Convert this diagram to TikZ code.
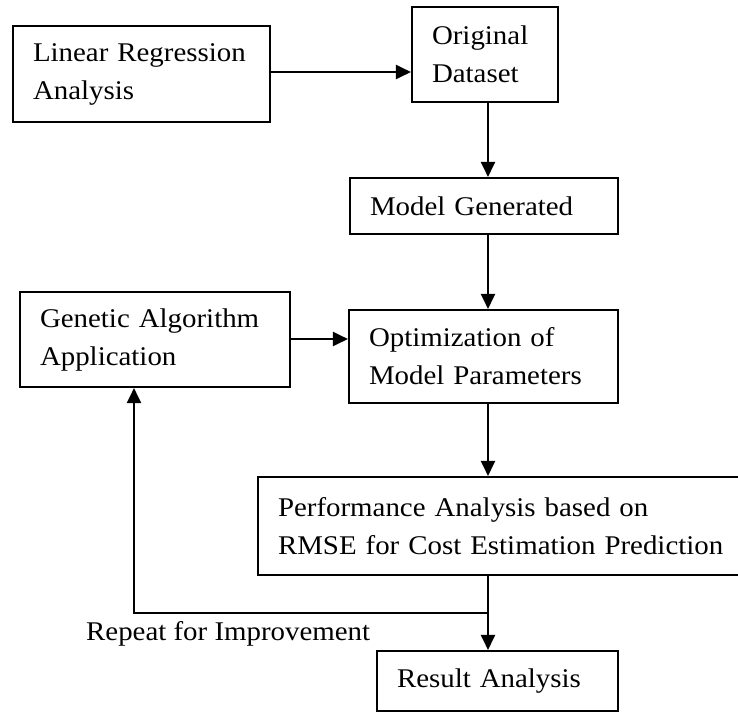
\documentclass[tikz,border=0pt]{standalone}
\usepackage{fontspec}
\setmainfont[FakeStretch=1.07]{Liberation Serif}
\usetikzlibrary{arrows.meta}
\tikzset{
  box/.style={draw, line width=2.1pt, align=left, inner xsep=20pt, inner ysep=3pt,
              font=\fontsize{27pt}{38pt}\selectfont},
  txt/.style={inner sep=0pt, font=\fontsize{27pt}{38pt}\selectfont},
  arr/.style={line width=2.1pt, -{Triangle[length=15pt,width=14pt]}}
}
\begin{document}
\begin{tikzpicture}[x=1pt,y=-1pt]
\useasboundingbox (0,0) rectangle (738,713);
\node[box, minimum width=257pt, minimum height=96pt, text width=217pt] (lin) at (141.5,74) {Linear Regression\\Analysis};
\node[box, minimum width=146pt, minimum height=95pt, text width=106pt] (orig) at (485,54.5) {Original\\Dataset};
\node[box, minimum width=268pt, minimum height=56pt, text width=228pt] (model) at (484,206) {Model Generated};
\node[box, minimum width=270pt, minimum height=95pt, text width=230pt] (gen) at (155,339.5) {Genetic Algorithm\\Application};
\node[box, minimum width=269pt, minimum height=93pt, text width=229pt] (opt) at (483.5,356.5) {Optimization of\\Model Parameters};
\node[box, minimum width=488pt, minimum height=98pt, text width=448pt] (perf) at (502,526) {Performance Analysis based on\\RMSE for Cost Estimation Prediction};
\node[box, minimum width=241pt, minimum height=60pt, text width=201pt] (res) at (497.5,681) {Result Analysis};
\node[txt, anchor=base west] (rep) at (86,640) {Repeat for Improvement};
\coordinate (a1) at (0,72);
\coordinate (a2) at (0,339);
\coordinate (vx) at (488,0);
\coordinate (fx) at (134,0);
\coordinate (j) at (488,613);
\draw[arr] (lin.east |- a1) -- (orig.west |- a1);
\draw[arr] (orig.south -| vx) -- (model.north -| vx);
\draw[arr] (model.south -| vx) -- (opt.north -| vx);
\draw[arr] (gen.east |- a2) -- (opt.west |- a2);
\draw[arr] (opt.south -| vx) -- (perf.north -| vx);
\draw[arr] (perf.south -| vx) -- (res.north -| vx);
\draw[arr] (j) -- (j -| fx) -- (gen.south -| fx);
\end{tikzpicture}
\end{document}
